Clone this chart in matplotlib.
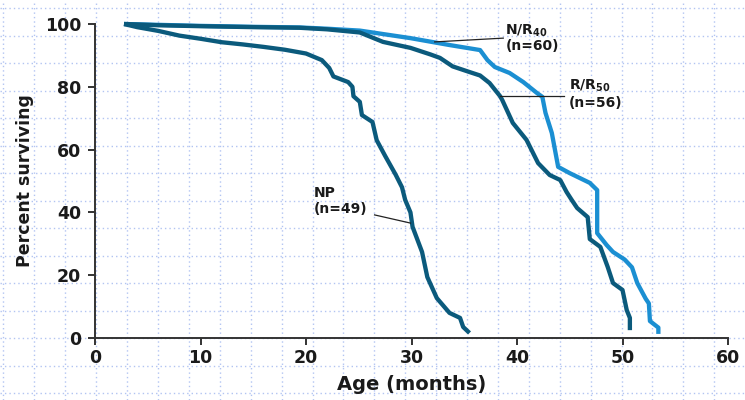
import numpy as np
import matplotlib
matplotlib.use("Agg")
import matplotlib.pyplot as plt
from matplotlib.lines import Line2D

# survival curves: age (months) vs percent surviving
np_months = [2.75, 4, 6, 8, 10, 12, 14, 16, 18, 20, 21.5, 22.2, 22.6, 24.0, 24.4,
             24.5, 25.1, 25.3, 26.3, 26.7, 27.5, 28.5, 29.1, 29.4, 29.9, 30.1,
             31.0, 31.5, 32.4, 33.6, 34.6, 34.9, 35.5]
np_pct = [100, 99, 97.8, 96.3, 95.3, 94.2, 93.5, 92.7, 91.8, 90.6, 88.5, 86, 83.3,
          81.5, 80, 77, 75.2, 71, 68.8, 63, 58, 52, 48, 44, 40, 35.4,
          27.4, 19.4, 12.7, 8.0, 6.4, 3.5, 1.6]

rr_months = [2.75, 6, 10, 15, 19.4, 22, 25.1, 27.3, 29.9, 31.8, 32.7, 33.9, 35.5,
             36.5, 37.4, 38.4, 38.6, 39.6, 40.9, 42.0, 43.1, 44.1, 44.7, 45.2,
             45.7, 46.7, 46.9, 47.9, 48.6, 49.1, 50.0, 50.4, 50.7, 50.7]
rr_pct = [100, 99.6, 99.3, 99.0, 98.8, 98.3, 97.3, 94.3, 92.4, 90.3, 89.2, 86.5, 84.7,
          83.6, 81.2, 77, 75.8, 68.5, 63.1, 55.7, 51.9, 50.3, 46.5, 43.9,
          41.4, 38.5, 31.5, 29, 22.6, 17.5, 15.3, 8.9, 6.4, 2.5]

nr_months = [2.75, 10, 15, 19.4, 22, 25.1, 29.9, 33.6, 36.5, 37.2, 37.9, 39.3, 40.6,
             41.9, 42.4, 42.7, 43.3, 43.6, 43.9, 45.0, 46.9, 47.6, 47.6, 48.5,
             49.1, 50.2, 50.9, 51.4, 52.2, 52.5, 52.6, 53.4, 53.4]
nr_pct = [100, 99.4, 99.1, 98.9, 98.5, 97.9, 95.5, 93.3, 91.7, 88.5, 86.3, 84.4, 81.5,
          78, 76.8, 71.7, 65.3, 59.9, 54.5, 52.5, 49.4, 47.1, 33.4, 29.6,
          27.4, 25, 22.5, 17.5, 12.5, 11, 5.4, 3.3, 1.3]

x_ticks = [0, 10, 20, 30, 40, 50, 60]
y_ticks = [0, 20, 40, 60, 80, 100]

DARK = "#0b5a7c"
LIGHT = "#1b8fd2"
INK = "#1a1a1a"

plt.rcParams["font.family"] = ["DejaVu Sans"]
plt.rcParams["font.weight"] = "bold"

fig = plt.figure(figsize=(7.45, 4.0), dpi=100)

# faint dotted "graph paper" behind everything
W, H = 745.0, 400.0
grid_kw = dict(transform=fig.transFigure, color="#b2c4f2", lw=1.0,
               ls=(0, (1, 2.2)), zorder=0)
for px in np.arange(3.5, W, 30.9):
    fig.add_artist(Line2D([px / W, px / W], [0, 1], **grid_kw))
for py in np.arange(8, H, 27.5):
    fig.add_artist(Line2D([0, 1], [1 - py / H, 1 - py / H], **grid_kw))

ax = fig.add_axes([95 / W, 62 / H, 633 / W, 314 / H])
ax.patch.set_visible(False)
ax.set_zorder(2)

line_kw = dict(lw=3.1, clip_on=False, solid_joinstyle="round", solid_capstyle="butt")
ax.plot(nr_months, nr_pct, color=LIGHT, **line_kw)
ax.plot(np_months, np_pct, color=DARK, **line_kw)
ax.plot(rr_months, rr_pct, color=DARK, **line_kw)

ax.set_xlim(0, 60)
ax.set_ylim(0, 100)
ax.set_xticks(x_ticks)
ax.set_yticks(y_ticks)
for s in ["top", "right"]:
    ax.spines[s].set_visible(False)
for s in ["left", "bottom"]:
    ax.spines[s].set_color("#333333")
    ax.spines[s].set_linewidth(1.4)
ax.tick_params(axis="both", direction="out", length=5, width=1.4, color="#333333",
               labelsize=12.5, labelcolor=INK)
ax.tick_params(axis="y", pad=5)
ax.tick_params(axis="x", pad=3)

ax.set_xlabel("Age (months)", fontsize=14, fontweight="bold", color=INK, labelpad=6)
ax.set_ylabel("Percent surviving", fontsize=12.5, fontweight="bold", color=INK, labelpad=8)

# curve labels with leader lines
lab = dict(fontsize=10, fontweight="bold", color=INK, va="center", ha="left")
ax.text(38.9, 97.8, r"N/R$_\mathbf{40}$", **lab)
ax.text(38.9, 93.0, "(n=60)", **lab)
ax.plot([32.2, 38.7], [94.3, 95.5], color="#222222", lw=0.9)

ax.text(44.9, 80.3, r"R/R$_\mathbf{50}$", **lab)
ax.text(44.9, 74.7, "(n=56)", **lab)
ax.plot([38.4, 44.5], [77.1, 77.1], color="#222222", lw=0.9)

ax.text(20.7, 46.2, "NP", **lab)
ax.text(20.7, 41.1, "(n=49)", **lab)
ax.plot([26.5, 29.9], [39.2, 36.6], color="#222222", lw=0.9)

fig.savefig("out.png", dpi=100)
